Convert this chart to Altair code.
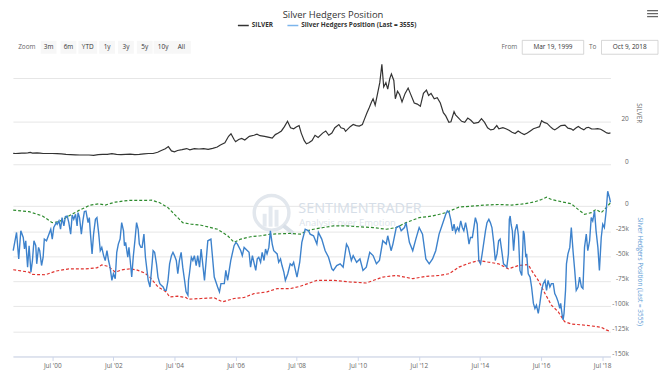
import altair as alt
import pandas as pd

FONT = "Open Sans"

# ---------------- data ----------------
silver_year = [1999.22, 1999.3, 1999.4, 1999.5, 1999.6, 1999.7, 1999.78, 1999.85, 2000.0, 2000.1, 2000.2, 2000.35, 2000.5, 2000.65, 2000.8, 2000.95, 2001.1, 2001.25, 2001.4, 2001.55, 2001.7, 2001.85, 2002.0, 2002.15, 2002.3, 2002.45, 2002.6, 2002.75, 2002.9, 2003.05, 2003.2, 2003.35, 2003.5, 2003.65, 2003.8, 2003.95, 2004.05, 2004.2, 2004.3, 2004.4, 2004.5, 2004.6, 2004.75, 2004.9, 2005.0, 2005.15, 2005.3, 2005.45, 2005.6, 2005.75, 2005.9, 2006.0, 2006.15, 2006.27, 2006.35, 2006.45, 2006.5, 2006.6, 2006.7, 2006.8, 2006.95, 2007.1, 2007.2, 2007.3, 2007.45, 2007.6, 2007.7, 2007.8, 2007.9, 2008.0, 2008.1, 2008.2, 2008.3, 2008.4, 2008.5, 2008.58, 2008.65, 2008.75, 2008.82, 2008.9, 2009.0, 2009.1, 2009.2, 2009.35, 2009.45, 2009.55, 2009.65, 2009.75, 2009.88, 2009.95, 2010.05, 2010.1, 2010.25, 2010.35, 2010.45, 2010.55, 2010.65, 2010.72, 2010.8, 2010.88, 2010.95, 2011.0, 2011.07, 2011.15, 2011.22, 2011.29, 2011.35, 2011.42, 2011.48, 2011.55, 2011.6, 2011.68, 2011.73, 2011.8, 2011.87, 2011.95, 2012.05, 2012.15, 2012.22, 2012.35, 2012.45, 2012.55, 2012.65, 2012.75, 2012.82, 2012.9, 2013.0, 2013.1, 2013.2, 2013.3, 2013.38, 2013.48, 2013.55, 2013.65, 2013.7, 2013.8, 2013.9, 2014.0, 2014.1, 2014.2, 2014.3, 2014.45, 2014.55, 2014.65, 2014.75, 2014.85, 2014.95, 2015.05, 2015.12, 2015.25, 2015.35, 2015.45, 2015.55, 2015.65, 2015.75, 2015.85, 2015.95, 2016.05, 2016.15, 2016.25, 2016.35, 2016.45, 2016.52, 2016.6, 2016.7, 2016.8, 2016.88, 2016.95, 2017.05, 2017.15, 2017.28, 2017.38, 2017.48, 2017.55, 2017.65, 2017.72, 2017.8, 2017.9, 2017.98, 2018.05, 2018.15, 2018.25, 2018.35, 2018.45, 2018.55, 2018.65, 2018.72, 2018.77]
silver_price = [5.1, 5.0, 5.1, 5.2, 5.2, 5.3, 5.5, 5.2, 5.3, 5.2, 5.0, 5.0, 5.0, 4.9, 4.8, 4.6, 4.5, 4.4, 4.3, 4.3, 4.3, 4.15, 4.5, 4.6, 4.6, 4.9, 4.6, 4.5, 4.6, 4.7, 4.5, 4.6, 4.8, 5.0, 5.0, 5.6, 6.3, 7.2, 8.2, 6.2, 5.8, 6.4, 6.8, 7.3, 6.7, 7.3, 7.1, 7.3, 6.9, 7.4, 8.0, 9.0, 10.0, 13.0, 14.2, 11.5, 10.5, 11.5, 12.0, 11.3, 13.0, 13.5, 14.0, 13.3, 13.0, 12.5, 12.2, 13.8, 14.5, 15.5, 17.5, 20.0, 17.0, 16.5, 17.5, 18.0, 14.5, 11.0, 9.5, 10.0, 11.0, 13.5, 12.5, 14.5, 15.5, 13.5, 14.5, 17.0, 18.5, 17.0, 16.5, 15.3, 17.5, 18.5, 18.0, 17.8, 18.5, 21.0, 24.0, 26.5, 29.0, 30.5, 27.5, 33.0, 38.0, 46.5, 36.0, 38.0, 35.0, 40.0, 42.0, 39.0, 30.5, 34.0, 32.5, 29.0, 33.0, 35.5, 33.0, 28.5, 28.0, 27.0, 33.0, 34.5, 32.0, 33.0, 30.5, 31.0, 28.5, 24.0, 22.5, 19.5, 19.8, 24.5, 23.0, 21.5, 20.0, 19.5, 21.5, 20.5, 19.0, 19.5, 21.2, 19.5, 17.0, 16.0, 16.3, 18.0, 16.5, 17.0, 16.5, 15.8, 14.9, 14.3, 15.5, 14.5, 13.8, 14.5, 15.5, 16.5, 17.0, 17.5, 20.3, 19.5, 19.0, 17.5, 16.5, 16.0, 17.0, 18.0, 18.2, 16.8, 16.5, 15.8, 17.0, 17.6, 16.8, 16.0, 17.0, 17.2, 16.5, 16.4, 16.6, 16.3, 15.5, 14.6, 14.4, 14.6]

# Silver hedgers net position, thousands of contracts
hedge_year = [1999.22, 1999.33, 1999.40, 1999.47, 1999.55, 1999.59, 1999.63, 1999.69, 1999.74, 1999.80, 1999.85, 1999.90, 1999.96, 1999.99, 2000.05, 2000.09, 2000.15, 2000.20, 2000.24, 2000.31, 2000.39, 2000.45, 2000.50, 2000.55, 2000.63, 2000.66, 2000.72, 2000.77, 2000.82, 2000.88, 2000.93, 2000.99, 2001.04, 2001.10, 2001.15, 2001.20, 2001.26, 2001.31, 2001.34, 2001.39, 2001.45, 2001.50, 2001.55, 2001.60, 2001.67, 2001.71, 2001.74, 2001.80, 2001.85, 2001.91, 2001.96, 2002.02, 2002.07, 2002.12, 2002.18, 2002.23, 2002.29, 2002.34, 2002.39, 2002.45, 2002.50, 2002.56, 2002.61, 2002.66, 2002.72, 2002.77, 2002.83, 2002.86, 2002.90, 2002.97, 2003.01, 2003.05, 2003.10, 2003.15, 2003.21, 2003.26, 2003.31, 2003.35, 2003.40, 2003.44, 2003.50, 2003.55, 2003.64, 2003.70, 2003.77, 2003.80, 2003.85, 2003.91, 2003.96, 2004.02, 2004.07, 2004.13, 2004.18, 2004.23, 2004.29, 2004.34, 2004.40, 2004.45, 2004.50, 2004.56, 2004.61, 2004.66, 2004.72, 2004.77, 2004.83, 2004.88, 2004.94, 2004.96, 2004.99, 2005.05, 2005.10, 2005.15, 2005.21, 2005.26, 2005.32,
              2005.37, 2005.48, 2005.59, 2005.69, 2005.80, 2005.91, 2005.97, 2006.02, 2006.13, 2006.18, 2006.24, 2006.34, 2006.45, 2006.51, 2006.56, 2006.67, 2006.72, 2006.78, 2006.94, 2006.99, 2007.05, 2007.16, 2007.21, 2007.26, 2007.32, 2007.37, 2007.43, 2007.48, 2007.53, 2007.59, 2007.64, 2007.70, 2007.75, 2007.86, 2007.91, 2007.97, 2008.02, 2008.08, 2008.13, 2008.21, 2008.29, 2008.35, 2008.40, 2008.51, 2008.60, 2008.67, 2008.78, 2008.89, 2008.94, 2009.05, 2009.16, 2009.21, 2009.32, 2009.43, 2009.54, 2009.65, 2009.70, 2009.81, 2009.92, 2010.02, 2010.13, 2010.19, 2010.29, 2010.35, 2010.46, 2010.57, 2010.67, 2010.78, 2010.89, 2011.00, 2011.11, 2011.21, 2011.32, 2011.43, 2011.48, 2011.59, 2011.65, 2011.76, 2011.86, 2011.92, 2012.03, 2012.08, 2012.19, 2012.30, 2012.40, 2012.51, 2012.62, 2012.73, 2012.84, 2012.95, 2013.05,
              2013.16, 2013.27, 2013.38, 2013.43, 2013.49, 2013.54, 2013.60, 2013.65, 2013.70, 2013.76, 2013.81, 2013.87, 2013.92, 2013.97, 2014.03, 2014.08, 2014.14, 2014.19, 2014.25, 2014.30, 2014.35, 2014.41, 2014.46, 2014.52, 2014.57, 2014.68, 2014.73, 2014.79, 2014.84, 2014.89, 2014.95, 2015.00, 2015.06, 2015.11, 2015.16, 2015.22, 2015.27, 2015.33, 2015.38, 2015.43, 2015.46, 2015.49, 2015.52, 2015.56, 2015.60, 2015.65, 2015.71, 2015.76, 2015.81, 2015.87, 2015.92, 2015.95, 2016.00, 2016.03, 2016.08, 2016.14, 2016.19, 2016.25, 2016.30, 2016.35, 2016.41, 2016.46, 2016.52, 2016.57, 2016.63, 2016.68, 2016.73, 2016.79, 2016.84, 2016.90, 2016.95, 2017.00, 2017.06, 2017.11, 2017.14, 2017.19, 2017.22, 2017.25, 2017.30, 2017.33, 2017.38, 2017.44, 2017.49, 2017.55, 2017.60, 2017.65, 2017.71, 2017.76, 2017.82, 2017.87, 2017.92, 2017.98, 2018.03, 2018.09, 2018.14, 2018.19, 2018.25, 2018.30, 2018.36, 2018.41, 2018.47, 2018.52, 2018.57, 2018.63, 2018.68, 2018.74, 2018.77]
hedge_pos = [-44.5, -26.3, -52.7, -24.7, -31.3, -42.8, -34.6, -60.9, -39.5, -65.9, -54.3, -34.6, -39.5, -57.6, -41.2, -44.5, -59.3, -51.0, -32.9, -34.6, -28.0, -23.1, -32.9, -21.4, -16.5, -18.1, -14.8, -23.1, -11.5, -19.8, -10.5, -10.0, -16.5, -28.0, -9.0, -13.2, -8.2, -19.8, -6.5, -11.5, -28.0, -14.8, -5.5, -5.0, -16.5, -11.5, -24.7, -47.7, -28.0, -13.2, -11.5, -28.0, -44.5, -41.2, -49.4, -54.3, -44.5, -54.3, -60.9, -74.1, -67.5, -72.4, -46.1, -37.9, -32.9, -16.5, -24.7, -39.5, -36.2, -51.0, -41.2, -54.3, -70.8, -51.0, -32.9, -16.5, -23.1, -37.9, -41.2, -41.2, -28.0, -51.0, -74.1, -80.7, -56.0, -44.5, -46.1, -57.6, -70.8, -77.4, -79.0, -80.7, -84.0, -84.0, -74.1, -57.6, -49.4, -46.1, -49.4, -54.3, -67.5, -54.3, -46.1, -60.9, -74.1, -85.6, -88.9, -74.1, -67.5, -51.0, -54.3, -49.4, -59.3, -49.4, -60.9,
             -42.8, -74.1, -34.6, -32.9, -70.8, -80.7, -85.6, -77.4, -77.4, -64.2, -74.1, -54.3, -39.5, -36.2, -37.9, -44.5, -49.4, -41.2, -46.1, -60.9, -49.4, -64.2, -52.7, -51.0, -56.0, -46.1, -54.3, -42.8, -47.7, -41.2, -24.7, -37.9, -44.5, -47.7, -56.0, -52.7, -59.3, -65.9, -74.1, -67.5, -57.6, -59.3, -56.0, -70.8, -56.0, -36.2, -23.1, -24.7, -28.0, -29.6, -37.9, -26.3, -32.9, -44.5, -51.0, -62.6, -64.2, -59.3, -57.6, -60.9, -37.9, -41.2, -54.3, -49.4, -56.0, -52.7, -64.2, -60.9, -46.1, -49.4, -57.6, -54.3, -34.6, -37.9, -29.6, -44.5, -37.9, -21.4, -19.8, -24.7, -21.4, -16.5, -36.2, -44.5, -32.9, -21.4, -28.0, -52.7, -57.6, -52.7, -44.5,
             -28.0, -18.1, -8.2, -4.9, -6.6, -13.2, -24.7, -18.1, -26.3, -21.4, -24.7, -14.8, -21.4, -24.7, -16.5, -24.7, -37.9, -31.3, -31.3, -21.4, -11.5, -18.1, -54.3, -57.6, -47.7, -24.7, -16.5, -13.2, -16.5, -21.4, -36.2, -54.3, -47.7, -34.6, -32.9, -46.1, -57.6, -59.3, -60.9, -47.7, -13.2, -9.9, -18.1, -24.7, -44.5, -24.7, -18.1, -29.6, -64.2, -69.2, -24.7, -28.0, -51.0, -47.7, -67.5, -70.8, -80.7, -97.1, -102.1, -98.8, -107.0, -97.1, -84.0, -77.4, -74.1, -84.0, -74.1, -80.7, -77.4, -77.4, -87.3, -90.6, -95.5, -102.1, -97.1, -108.7, -113.6, -107.0, -84.0, -57.6, -47.7, -41.2, -21.4, -46.1, -64.2, -84.0, -80.7, -70.8, -80.7, -82.3, -41.2, -28.0, -44.5, -34.6, -11.5, -14.8, -4.9, -24.7, -41.2, -64.2, -31.3, -18.1, -21.4, -4.9, 14.8, 8.2, 3.6]

upper_year = [1999.22, 1999.74, 2000.18, 2000.50, 2000.72, 2001.04, 2001.37, 2001.74, 2002.02, 2002.23, 2002.56, 2002.99, 2003.42, 2003.75, 2004.02, 2004.29, 2004.50, 2004.77, 2005.05, 2005.37, 2005.91, 2006.24, 2006.45, 2006.67, 2006.99, 2007.32, 2007.64, 2008.29, 2008.62, 2008.83, 2009.05, 2009.37, 2009.70, 2010.13, 2010.57, 2011.00, 2011.43, 2011.76, 2012.08, 2012.51, 2012.95, 2013.38, 2013.81, 2014.24, 2014.68, 2015.11, 2015.54, 2015.97, 2016.30, 2016.52, 2016.68, 2016.84, 2017.17, 2017.49, 2017.71, 2017.92, 2018.14, 2018.30, 2018.47, 2018.63, 2018.77]
upper_band = [-4.0, -5.6, -9.9, -16.5, -15.5, -9.9, -4.3, 1.0, 2.3, 1.0, 4.0, 5.6, 5.6, 5.9, 3.3, -1.6, -8.2, -16.5, -18.1, -19.1, -23.1, -29.6, -36.2, -32.9, -30.6, -29.6, -28.0, -27.3, -28.0, -24.7, -23.1, -21.4, -19.8, -19.8, -20.7, -21.4, -23.1, -21.4, -16.5, -11.5, -9.9, -6.6, -1.0, 0.0, 1.0, 1.6, 1.0, 2.3, 4.3, 6.6, 8.9, 6.6, 4.3, 2.3, -3.3, -8.2, -6.6, -3.3, -6.6, -1.6, 3.3]

lower_year = [1999.22, 1999.74, 1999.85, 2000.28, 2000.61, 2001.04, 2001.58, 2001.96, 2002.12, 2002.34, 2002.56, 2002.77, 2003.04, 2003.26, 2003.53, 2003.69, 2003.96, 2004.23, 2004.34, 2004.61, 2004.88, 2004.94, 2005.37, 2005.80, 2006.07, 2006.45, 2006.78, 2007.10, 2007.53, 2007.86, 2008.29, 2008.62, 2009.16, 2009.70, 2010.24, 2010.78, 2011.32, 2011.76, 2012.30, 2012.73, 2013.16, 2013.49, 2013.81, 2014.14, 2014.46, 2014.79, 2015.11, 2015.43, 2015.76, 2016.08, 2016.19, 2016.41, 2016.63, 2016.84, 2017.06, 2017.27, 2017.49, 2017.82, 2018.14, 2018.47, 2018.63, 2018.77]
lower_band = [-63.5, -65.9, -68.2, -68.5, -64.9, -62.6, -62.6, -61.6, -58.6, -60.3, -65.9, -63.6, -62.6, -63.6, -66.8, -70.8, -80.7, -85.6, -90.6, -89.9, -91.2, -92.9, -92.2, -91.5, -95.5, -92.2, -91.2, -87.3, -85.6, -82.3, -82.3, -80.0, -74.1, -74.1, -75.7, -76.7, -70.8, -69.2, -72.4, -70.1, -69.2, -67.5, -60.9, -57.0, -54.3, -56.0, -57.6, -62.6, -59.3, -58.3, -64.2, -74.1, -87.3, -98.8, -105.4, -115.3, -117.6, -118.5, -119.5, -120.9, -123.5, -125.1]

tick_years = [2000, 2002, 2004, 2006, 2008, 2010, 2012, 2014, 2016, 2018]
silver_ticks = [0, 20, 40]
hedge_ticks = [-150, -125, -100, -75, -50, -25, 0]
zoom_buttons = ["3m", "6m", "YTD", "1y", "3y", "5y", "10y", "All"]
title_text = "Silver Hedgers Position"
legend_silver = "SILVER"
legend_hedge = "Silver Hedgers Position (Last = 3555)"
date_from = "Mar 19, 1999"
date_to = "Oct 9, 2018"

assert len(silver_year) == len(silver_price)
assert len(hedge_year) == len(hedge_pos), (len(hedge_year), len(hedge_pos))
assert len(upper_year) == len(upper_band)
assert len(lower_year) == len(lower_band)


def to_iso(y):
    yi = int(y)
    ts = pd.Timestamp(year=yi, month=1, day=1) + pd.Timedelta(days=(y - yi) * 365.25)
    return ts.strftime("%Y-%m-%d")


silver_df = pd.DataFrame({"date": [to_iso(y) for y in silver_year], "price": silver_price})
hedge_df = pd.DataFrame({"date": [to_iso(y) for y in hedge_year], "pos": hedge_pos})
upper_df = pd.DataFrame({"date": [to_iso(y) for y in upper_year], "pos": upper_band})
lower_df = pd.DataFrame({"date": [to_iso(y) for y in lower_year], "pos": lower_band})

W = 603
GRAY = "#666666"
BLUE = "#3d82cc"
x_scale = alt.Scale(type="utc", domain=[alt.DateTime(year=1999, month=3, date=19, utc=True),
                                       alt.DateTime(year=2018, month=10, date=9, utc=True)])
ax = dict(labelFont=FONT, labelFontSize=6.5, labelColor=GRAY, titleFont=FONT,
          titleFontSize=6.5, titleFontWeight="normal")

dummy = pd.DataFrame({"k": [0]})


def txt(text, x, y, size=6.5, color="#333333", weight="normal", align="center"):
    return alt.Chart(dummy).mark_text(text=text, font=FONT, fontSize=size, color=color,
                                      fontWeight=weight, align=align, baseline="middle").encode(
        x=alt.value(x), y=alt.value(y))


def box(x1, x2, y1, y2, fill, stroke=None):
    kw = dict(fill=fill)
    if stroke:
        kw.update(stroke=stroke, strokeWidth=0.8)
    return alt.Chart(dummy).mark_rect(**kw).encode(
        x=alt.value(x1), x2=alt.value(x2), y=alt.value(y1), y2=alt.value(y2))


def seg(x1, x2, y1, y2, color, width=1.0):
    return alt.Chart(dummy).mark_rule(color=color, strokeWidth=width).encode(
        x=alt.value(x1), x2=alt.value(x2), y=alt.value(y1), y2=alt.value(y2))


# ---------------- header ----------------
hdr = [txt(title_text, 323, 5.5, size=9.5, color="#333333")]
hdr += [seg(227, 238, 16, 16, "#333333", 1.5), txt(legend_silver, 241, 16, size=6.5, weight="bold", align="left"),
        seg(277, 288, 16, 16, "#7cb5ec", 1.5), txt(legend_hedge, 291, 16, size=6.5, weight="bold", align="left")]
hdr += [txt("Zoom", 14, 38, color=GRAY)]
btn_cx = [36, 56, 75.5, 95, 114, 133, 151.5, 170]
for lab, cx in zip(zoom_buttons, btn_cx):
    hw = 9.5 if len(lab) == 3 else 8
    hdr += [box(cx - hw, cx + hw, 31.5, 44.5, "#f7f7f7"), txt(lab, cx, 38)]
hdr += [txt("From", 509, 38, color=GRAY, align="right"),
        box(514, 576, 31, 45, "#ffffff", "#cccccc"), txt(date_from, 545, 38),
        txt("To", 585, 38, color=GRAY),
        box(594, 651, 31, 45, "#ffffff", "#cccccc"), txt(date_to, 622.5, 38)]
for yy in (1, 4, 7):
    hdr += [seg(640, 651, yy, yy, GRAY, 1.3)]
header = alt.layer(*hdr).properties(width=W, height=52)

# ---------------- silver panel ----------------
silver = alt.Chart(silver_df).mark_line(color="#333333", strokeWidth=1.2).encode(
    x=alt.X("date:T", scale=x_scale, axis=None),
    y=alt.Y("price:Q", scale=alt.Scale(domain=[0, 48], nice=False, zero=False),
            axis=alt.Axis(orient="right", values=silver_ticks,
                          labelExpr="datum.value == 40 ? '' : datum.label",
                          grid=True, gridColor="#e6e6e6", domain=False, ticks=False,
                          labelAlign="right", labelBaseline="bottom", labelPadding=18,
                          title="SILVER", titleColor=GRAY, titlePadding=7, **ax)),
).properties(width=W, height=104)

spacer = alt.Chart(dummy).mark_text(text=" ", fontSize=1).encode(
    x=alt.value(1), y=alt.value(10)).properties(width=W, height=21)

# ---------------- hedgers panel ----------------
xax = alt.X("date:T", scale=x_scale,
            axis=alt.Axis(values=[alt.DateTime(year=y, month=7, date=1, utc=True) for y in tick_years],
                          format="%b '%y", grid=False, domainColor="#ccd6eb", tickColor="#ccd6eb",
                          tickSize=4, labelPadding=2, title=None, labelFlush=False, **ax))
yax = alt.Y("pos:Q", scale=alt.Scale(domain=[-150, 20], nice=False, zero=False),
            axis=alt.Axis(orient="right", values=hedge_ticks,
                          labelExpr="datum.value == 0 ? '0' : datum.value + 'k'",
                          grid=True, gridColor="#e6e6e6", domain=False, ticks=False,
                          labelAlign="right", labelBaseline="bottom", labelPadding=18,
                          title=legend_hedge, titleColor="#5b9bd5", titlePadding=8, **ax))

wm = [
    alt.Chart(dummy).mark_point(shape="circle", size=1225, filled=False, strokeWidth=3.5,
                                color="#e2e7ed", opacity=1).encode(x=alt.value(261), y=alt.value(27)),
    box(252, 256, 28, 41, "#e4e9ef"), box(258, 262, 20, 41, "#e4e9ef"), box(264, 268, 24, 41, "#e4e9ef"),
    seg(273, 283, 40, 48, "#d8dfe7", 4),
    txt("SENTIMENTRADER", 288, 23, size=14.5, color="#d6dee8", align="left"),
    txt("Analysis over Emotion", 289, 37, size=9.5, color="#dce3ea", align="left"),
]

red = alt.Chart(lower_df).mark_line(color="#e0332f", strokeWidth=1.2, strokeDash=[3, 2]).encode(x=xax, y=yax)
green = alt.Chart(upper_df).mark_line(color="#2e8b2e", strokeWidth=1.2, strokeDash=[3, 2]).encode(x=xax, y=yax)
blue = alt.Chart(hedge_df).mark_line(color=BLUE, strokeWidth=1.4).encode(x=xax, y=yax)

hedgers = alt.layer(*wm, red, green, blue).properties(width=W, height=172)

chart = alt.vconcat(header, silver, spacer, hedgers, spacing=0).properties(
    padding={"left": 2, "top": 0, "right": 0, "bottom": 0}, background="white"
).configure(font=FONT).configure_view(strokeWidth=0, stroke=None)

chart.save("out.html", embed_options={"renderer": "svg", "actions": False})
